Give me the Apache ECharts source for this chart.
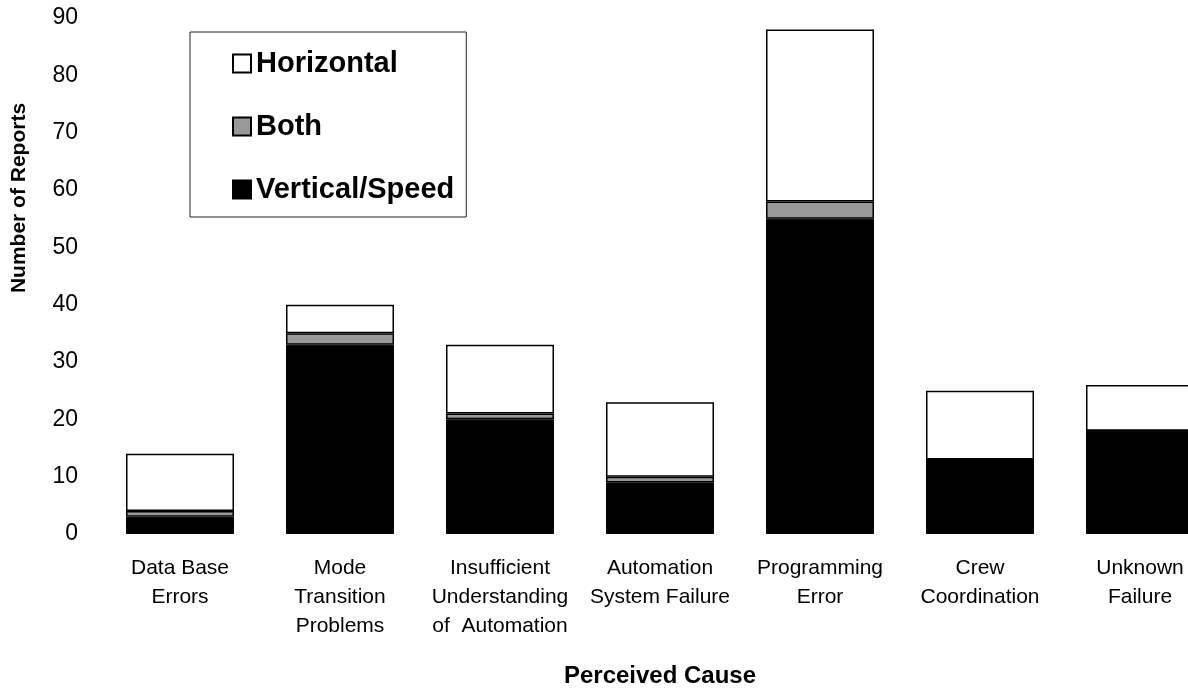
<!DOCTYPE html>
<html>
<head>
<meta charset="utf-8">
<script src="https://cdn.jsdelivr.net/npm/echarts@6/dist/echarts.min.js"></script>
<style>
html,body{margin:0;padding:0;background:#fff;overflow:hidden;}
#chart{width:1188px;height:689px;}
</style>
</head>
<body>
<div id="chart"></div>
<script>
const categories = [
  "Data Base\nErrors",
  "Mode\nTransition\nProblems",
  "Insufficient\nUnderstanding\nof  Automation",
  "Automation\nSystem Failure",
  "Programming\nError",
  "Crew\nCoordination",
  "Unknown\nFailure"
];
const verticalSpeed = [3, 33, 20, 9, 55, 13, 18];
const both = [1, 2, 1, 1, 3, 0, 0];
const horizontal = [10, 5, 12, 13, 30, 12, 8];
const yTicks = [0, 10, 20, 30, 40, 50, 60, 70, 80, 90];

const font = "'Liberation Sans', Arial, sans-serif";
const chart = echarts.init(document.getElementById('chart'));
chart.setOption({
  animation: false,
  backgroundColor: '#fff',
  textStyle: { fontFamily: font, color: '#000' },
  grid: { left: 100, top: 18, width: 1120, height: 516, containLabel: false, outerBoundsMode: 'none' },
  legend: {
    orient: 'vertical',
    left: 190,
    top: 32,
    data: ['Horizontal', 'Both', 'Vertical/Speed'],
    icon: 'rect',
    itemWidth: 18,
    itemHeight: 18,
    itemGap: 34,
    padding: [17, 12, 13, 42],
    borderColor: '#222',
    borderWidth: 1,
    backgroundColor: '#fff',
    textStyle: { fontFamily: font, fontSize: 29, fontWeight: 'bold', color: '#000' }
  },
  graphic: [{
    type: 'text',
    x: 19,
    y: 198,
    rotation: Math.PI / 2,
    style: {
      text: 'Number of Reports',
      font: "bold 21px 'Liberation Sans', Arial, sans-serif",
      fill: '#000',
      align: 'center',
      verticalAlign: 'middle'
    }
  }],
  xAxis: {
    type: 'category',
    data: categories,
    name: 'Perceived Cause',
    nameLocation: 'middle',
    nameGap: 130,
    nameTextStyle: { fontFamily: font, fontSize: 24, fontWeight: 'bold', color: '#000' },
    axisLine: { show: false },
    axisTick: { show: false },
    axisLabel: { interval: 0, fontFamily: font, fontSize: 21, color: '#000', lineHeight: 29, margin: 20 }
  },
  yAxis: {
    type: 'value',
    min: yTicks[0],
    max: yTicks[yTicks.length - 1],
    interval: 10,
    axisLine: { show: false },
    axisTick: { show: false },
    splitLine: { show: false },
    axisLabel: { fontFamily: font, fontSize: 23, color: '#000', margin: 22 }
  },
  series: [
    {
      name: 'Vertical/Speed', type: 'bar', stack: 'a', data: verticalSpeed,
      barWidth: 108,
      itemStyle: { color: '#000', borderColor: '#000', borderWidth: 1 }
    },
    {
      name: 'Both', type: 'bar', stack: 'a', data: both,
      itemStyle: { color: '#999999', borderColor: '#000', borderWidth: 1.5 }
    },
    {
      name: 'Horizontal', type: 'bar', stack: 'a', data: horizontal,
      itemStyle: { color: '#fff', borderColor: '#000', borderWidth: 1.5 }
    }
  ]
});
</script>
</body>
</html>
